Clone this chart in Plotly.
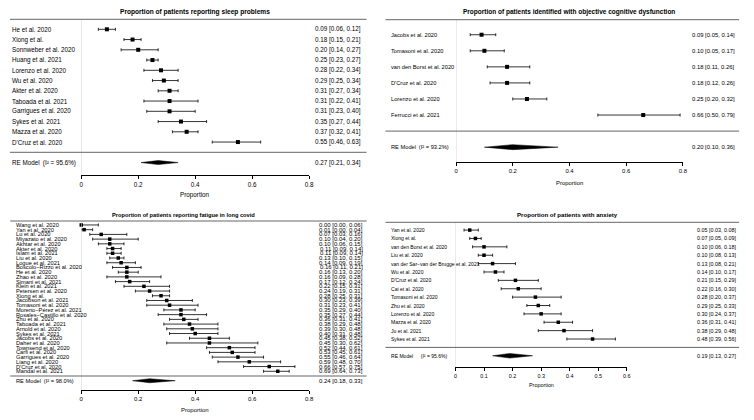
import plotly.graph_objects as go

W, H = 754, 420

# ---------------- data ----------------
sleep_studies = ["He et al. 2020", "Xiong et al.", "Sonnweber et al. 2020", "Huang et al. 2021",
                 "Lorenzo et al. 2020", "Wu et al. 2020", "Akter et al. 2020", "Taboada et al. 2021",
                 "Garrigues et al. 2020", "Sykes et al. 2021", "Mazza et al. 2020", "D'Cruz et al. 2020"]
sleep_est = [0.09, 0.18, 0.20, 0.25, 0.28, 0.29, 0.31, 0.31, 0.31, 0.35, 0.37, 0.55]
sleep_lo = [0.06, 0.15, 0.14, 0.23, 0.22, 0.25, 0.27, 0.22, 0.23, 0.27, 0.32, 0.46]
sleep_hi = [0.12, 0.21, 0.27, 0.27, 0.34, 0.34, 0.34, 0.41, 0.40, 0.44, 0.41, 0.63]
sleep_re = [0.27, 0.21, 0.34]
sleep_i2 = 95.6

cog_studies = ["Jacobs et al. 2020", "Tomasoni et al. 2020", "van den Borst et al. 2020",
               "D'Cruz et al. 2020", "Lorenzo et al. 2020", "Ferrucci et al. 2021"]
cog_est = [0.09, 0.10, 0.18, 0.18, 0.25, 0.66]
cog_lo = [0.05, 0.05, 0.11, 0.12, 0.20, 0.50]
cog_hi = [0.14, 0.17, 0.26, 0.26, 0.32, 0.79]
cog_re = [0.20, 0.10, 0.36]
cog_i2 = 93.2

fat_studies = ["Wang et al. 2020", "Yan et al. 2020", "Lu et al. 2020", "Miyazato et al. 2020",
               "Akhtar et al. 2020", "Akter et al. 2020", "Islam et al. 2021", "Liu et al. 2020",
               "Logue et al. 2021", "Boscolo\u2212Rizzo et al. 2020", "He et al. 2020", "Zhao et al. 2020",
               "Simani et al. 2021", "Klein et al. 2021", "Petersen et al. 2020", "Xiong et al.",
               "Jacobson et al. 2021", "Tomasoni et al. 2020", "Moreno\u2212P\u00e9rez et al. 2021",
               "Rosales\u2212Castillo et al. 2020", "Zhu et al. 2020", "Taboada et al. 2021",
               "Arnold et al. 2020", "Sykes et al. 2021", "Jacobs et al. 2020", "Daher et al. 2020",
               "Townsend et al. 2020", "Carfi et al. 2020", "Garrigues et al. 2020", "Liang et al. 2020",
               "D'Cruz et al. 2020", "Mandal et al. 2021"]
fat_est = [0.00, 0.01, 0.07, 0.10, 0.10, 0.11, 0.11, 0.13, 0.14, 0.16, 0.16, 0.16,
           0.17, 0.22, 0.24, 0.28, 0.30, 0.31, 0.35, 0.35, 0.36, 0.38,
           0.39, 0.40, 0.45, 0.45, 0.52, 0.53, 0.55, 0.59, 0.66, 0.69]
fat_lo = [0.00, 0.00, 0.03, 0.04, 0.06, 0.09, 0.09, 0.10, 0.09, 0.11, 0.13, 0.09,
          0.12, 0.15, 0.19, 0.25, 0.23, 0.23, 0.29, 0.27, 0.31, 0.29,
          0.30, 0.31, 0.38, 0.30, 0.44, 0.45, 0.46, 0.48, 0.57, 0.64]
fat_hi = [0.06, 0.04, 0.16, 0.20, 0.15, 0.14, 0.14, 0.15, 0.19, 0.21, 0.20, 0.28,
          0.24, 0.31, 0.31, 0.31, 0.39, 0.41, 0.40, 0.44, 0.41, 0.48,
          0.48, 0.48, 0.52, 0.62, 0.61, 0.61, 0.64, 0.70, 0.75, 0.73]
fat_re = [0.24, 0.18, 0.33]
fat_i2 = 98.0

anx_studies = ["Yan et al. 2020", "Xiong et al.", "van den Borst et al. 2020", "Liu et al. 2020",
               "van der Sar\u2212van der Brugge et al. 2021", "Wu et al. 2020", "D'Cruz et al. 2020",
               "Cai et al. 2020", "Tomasoni et al. 2020", "Zhu et al. 2020", "Lorenzo et al. 2020",
               "Mazza et al. 2020", "Ju et al. 2021", "Sykes et al. 2021"]
anx_est = [0.05, 0.07, 0.10, 0.10, 0.13, 0.14, 0.21, 0.22, 0.28, 0.29, 0.30, 0.36, 0.38, 0.48]
anx_lo = [0.03, 0.05, 0.06, 0.08, 0.08, 0.10, 0.15, 0.16, 0.20, 0.25, 0.24, 0.31, 0.29, 0.39]
anx_hi = [0.08, 0.09, 0.18, 0.13, 0.21, 0.17, 0.29, 0.30, 0.37, 0.33, 0.37, 0.41, 0.48, 0.56]
anx_re = [0.19, 0.13, 0.27]
anx_i2 = 95.6

ticks_08 = [0, 0.2, 0.4, 0.6, 0.8]
ticks_06 = [0, 0.1, 0.2, 0.3, 0.4, 0.5, 0.6]

titles = ["Proportion of patients reporting sleep problems",
          "Proportion of patients identified with objective cognitive dysfunction",
          "Proportion of patients reporting fatigue in long covid",
          "Proportion of patients with anxiety"]

# ---------------- layout geometry (pixels) ----------------
panels = [
    dict(title=titles[0], studies=sleep_studies, est=sleep_est, lo=sleep_lo, hi=sleep_hi,
         re=sleep_re, i2=sleep_i2, ticks=ticks_08,
         x0=80, x1=310, left=8, right=368, lab=8, val=364, row0=152.3, sp=10.25,
         axis=175, top=19.3, tx=194.5, ty=12, fs=6.3, lfs=6.3, tfs=6.6, ms=4, dh=2.0,
         px=195, py=195.3, gap="\u2002"),
    dict(title=titles[1], studies=cog_studies, est=cog_est, lo=cog_lo, hi=cog_hi,
         re=cog_re, i2=cog_i2, ticks=ticks_08,
         x0=458.3, x1=687.3, left=387, right=744, lab=390.7, val=741.7, row0=131.1, sp=16.06,
         axis=162.3, top=19.7, tx=572.5, ty=12.3, fs=5.9, lfs=5.7, tfs=6.5, ms=4, dh=2.5,
         px=572.8, py=182.7, gap="\u2002"),
    dict(title=titles[2], studies=fat_studies, est=fat_est, lo=fat_lo, hi=fat_hi,
         re=fat_re, i2=fat_i2, ticks=ticks_08,
         x0=80, x1=310, left=8.3, right=368, lab=12, val=366.7, row0=376, sp=4.72,
         axis=390, top=221, tx=183, ty=214.7, fs=6.0, lfs=5.7, tfs=5.7, ms=3.5, dh=2.0,
         px=195, py=410, gap="\u2002"),
    dict(title=titles[3], studies=anx_studies, est=anx_est, lo=anx_lo, hi=anx_hi,
         re=anx_re, i2=anx_i2, ticks=ticks_06,
         x0=457.7, x1=630.7, left=387, right=744, lab=390.7, val=742.7, row0=347.4, sp=8.38,
         axis=367.3, top=222.3, tx=570.7, ty=214.7, fs=5.4, lfs=5.05, tfs=6.1, ms=3.5, dh=2.3,
         px=544.2, py=385.3, gap="\u2003\u2002"),
]

FONT = "Liberation Sans, Arial, Helvetica, sans-serif"

def fx(p):
    return p / W

def fy(p):
    return 1 - p / H

fig = go.Figure()
annotations = []
shapes = []
layout_axes = {}

for i, P in enumerate(panels, start=1):
    sfx = "" if i == 1 else str(i)
    xref, yref = "x" + sfx, "y" + sfx
    k = len(P["studies"])
    rows = [k - j for j in range(k)]
    ymin = (P["row0"] - P["axis"]) / P["sp"]
    ymax = (P["row0"] - P["top"]) / P["sp"]
    xmax = P["ticks"][-1]

    layout_axes["xaxis" + sfx] = dict(
        domain=[fx(P["x0"]), fx(P["x1"])], range=[0, xmax], anchor=yref,
        tickmode="array", tickvals=P["ticks"], ticktext=[f"{t:g}" for t in P["ticks"]],
        showline=True, linecolor="black", linewidth=1, ticks="outside", ticklen=3,
        tickwidth=1, tickcolor="black", showgrid=False, zeroline=False,
        tickfont=dict(size=P["fs"], color="black", family=FONT), fixedrange=True)
    layout_axes["yaxis" + sfx] = dict(
        domain=[fy(P["axis"]), fy(P["top"])], range=[ymin, ymax], anchor=xref,
        visible=False, fixedrange=True)

    # reference line at 0
    shapes.append(dict(type="line", xref=xref, yref=yref, x0=0, x1=0, y0=ymin, y1=ymax,
                       line=dict(color="#d6d6d6", width=1)))
    # top line and separator line
    shapes.append(dict(type="line", xref="paper", yref="paper", x0=fx(P["left"]), x1=fx(P["right"]),
                       y0=fy(P["top"]), y1=fy(P["top"]), line=dict(color="#555555", width=0.9)))
    shapes.append(dict(type="line", xref="paper", yref=yref, x0=fx(P["left"]), x1=fx(P["right"]),
                       y0=0, y1=0, line=dict(color="#555555", width=0.9)))

    # study points with CIs
    fig.add_trace(go.Scatter(
        x=P["est"], y=rows, mode="markers", xaxis=xref, yaxis=yref, cliponaxis=False,
        marker=dict(symbol="square", size=P["ms"], color="black", line=dict(width=0)),
        error_x=dict(type="data", symmetric=False,
                     array=[h - e for e, h in zip(P["est"], P["hi"])],
                     arrayminus=[e - l for e, l in zip(P["est"], P["lo"])],
                     color="black", thickness=0.8, width=1.5),
        hoverinfo="skip"))

    # RE model diamond
    est, lo, hi = P["re"]
    h = P["dh"] / P["sp"]
    fig.add_trace(go.Scatter(
        x=[lo, est, hi, est, lo], y=[-1, -1 + h, -1, -1 - h, -1], mode="lines",
        fill="toself", fillcolor="black", line=dict(color="black", width=0.5),
        xaxis=xref, yaxis=yref, cliponaxis=False, hoverinfo="skip"))

    # labels and values
    for name, r, e, l, hh in zip(P["studies"], rows, P["est"], P["lo"], P["hi"]):
        annotations.append(dict(text=name, xref="paper", yref=yref, x=fx(P["lab"]), y=r,
                                xanchor="left", yanchor="middle", showarrow=False,
                                font=dict(size=P["lfs"], color="black", family=FONT)))
        annotations.append(dict(text=f"{e:.2f} [{l:.2f}, {hh:.2f}]", xref="paper", yref=yref,
                                x=fx(P["val"]), y=r, xanchor="right", yanchor="middle",
                                showarrow=False,
                                font=dict(size=P["fs"], color="black", family=FONT)))
    annotations.append(dict(text=f"RE Model{P['gap']}(I\u00b2 = {P['i2']:.1f}%)", xref="paper",
                            yref=yref, x=fx(P["lab"]), y=-1, xanchor="left", yanchor="middle",
                            showarrow=False, font=dict(size=P["lfs"], color="black", family=FONT)))
    annotations.append(dict(text=f"{est:.2f} [{lo:.2f}, {hi:.2f}]", xref="paper", yref=yref,
                            x=fx(P["val"]), y=-1, xanchor="right", yanchor="middle",
                            showarrow=False, font=dict(size=P["fs"], color="black", family=FONT)))
    # title
    annotations.append(dict(text=f"<b>{P['title']}</b>", xref="paper", yref="paper",
                            x=fx(P["tx"]), y=fy(P["ty"]), xanchor="center", yanchor="middle",
                            showarrow=False, font=dict(size=P["tfs"], color="black", family=FONT)))
    # x-axis label
    annotations.append(dict(text="Proportion", xref="paper", yref="paper",
                            x=fx(P["px"]), y=fy(P["py"]), xanchor="center", yanchor="middle",
                            showarrow=False, font=dict(size=P["fs"], color="black", family=FONT)))

fig.update_layout(
    width=W, height=H, autosize=False, margin=dict(l=0, r=0, t=0, b=0),
    paper_bgcolor="white", plot_bgcolor="rgba(0,0,0,0)", showlegend=False,
    font=dict(family=FONT, color="black"), annotations=annotations, shapes=shapes,
    **layout_axes)

fig.write_html("out.html", config={"displayModeBar": False},
               post_script="document.body.style.margin='0';document.body.style.overflow='hidden';")
